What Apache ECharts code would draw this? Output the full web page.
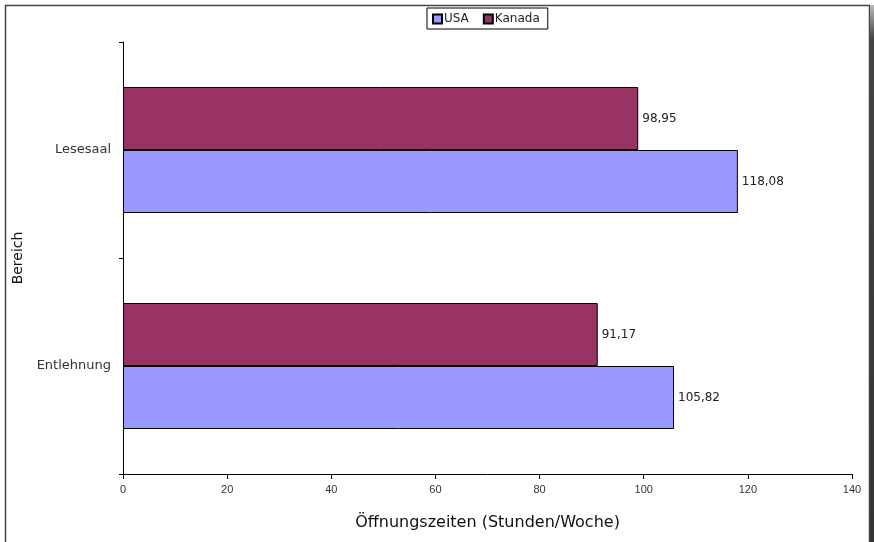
<!DOCTYPE html>
<html>
<head>
<meta charset="utf-8">
<script src="https://cdn.jsdelivr.net/npm/echarts@6/dist/echarts.min.js"></script>
<style>
  html, body { margin: 0; padding: 0; background: #fff; }
  #chart { width: 874px; height: 542px; }
</style>
</head>
<body>
<div id="chart"></div>
<script>
// Opening hours per week by library area (USA vs. Kanada)
const categories = ['Entlehnung', 'Lesesaal'];
const usaValues = [105.82, 118.08];
const kanadaValues = [91.17, 98.95];
const xTicks = [0, 20, 40, 60, 80, 100, 120, 140];

const fmt = v => v.toFixed(2).replace('.', ',');

const chart = echarts.init(document.getElementById('chart'), null, { renderer: 'canvas' });

const labelStyle = {
  show: true,
  position: 'right',
  distance: 4,
  fontFamily: 'DejaVu Sans',
  fontSize: 12,
  color: '#222',
  formatter: p => fmt(p.value)
};

chart.setOption({
  backgroundColor: '#fff',
  animation: false,
  graphic: [
    {
      type: 'rect',
      shape: { x: 5.5, y: 5.5, width: 864, height: 560 },
      style: { fill: 'none', stroke: '#444', lineWidth: 1.5 },
      silent: true
    },
    {
      type: 'rect',
      shape: { x: 870, y: 5, width: 4, height: 560 },
      style: {
        fill: new echarts.graphic.LinearGradient(0, 0, 0, 1, [
          { offset: 0, color: '#bbb' },
          { offset: 0.06, color: '#444' },
          { offset: 1, color: '#333' }
        ])
      },
      silent: true
    }
  ],
  legend: {
    top: 8,
    left: 427,
    data: ['USA', 'Kanada'],
    icon: 'rect',
    itemWidth: 9,
    itemHeight: 9,
    itemGap: 14,
    padding: [5, 8, 4, 5],
    borderColor: '#000',
    borderWidth: 1,
    backgroundColor: '#fff',
    textStyle: { fontFamily: 'DejaVu Sans', fontSize: 12, color: '#222', padding: [0, 0, 0, -3] }
  },
  grid: { left: 123, right: 22, top: 42, bottom: 68, containLabel: false },
  xAxis: {
    type: 'value',
    min: 0,
    max: 140,
    interval: 20,
    name: 'Öffnungszeiten (Stunden/Woche)',
    nameLocation: 'middle',
    nameGap: 41,
    nameTextStyle: { fontFamily: 'DejaVu Sans', fontSize: 16, color: '#111' },
    axisLine: { show: true, lineStyle: { color: '#000', width: 1 } },
    axisTick: { show: true, length: 5, lineStyle: { color: '#000' } },
    axisLabel: {
      margin: 10,
      fontFamily: 'Liberation Sans',
      fontSize: 11,
      color: '#333',
      formatter: v => (xTicks.includes(v) ? String(v) : '')
    },
    splitLine: { show: false }
  },
  yAxis: {
    type: 'category',
    data: categories,
    name: 'Bereich',
    nameLocation: 'middle',
    nameGap: 97,
    nameRotate: 90,
    nameTextStyle: { fontFamily: 'DejaVu Sans', fontSize: 14, color: '#111' },
    axisLine: { show: true, lineStyle: { color: '#000', width: 1 } },
    axisTick: { show: true, length: 4, lineStyle: { color: '#000' } },
    axisLabel: { margin: 12, fontFamily: 'DejaVu Sans', fontSize: 13, color: '#333' },
    splitLine: { show: false }
  },
  // Kanada listed first so its bar sits above USA within each category
  series: [
    {
      name: 'Kanada',
      type: 'bar',
      data: kanadaValues,
      barWidth: 63,
      barGap: '0%',
      itemStyle: { color: '#993366', borderColor: '#000', borderWidth: 1 },
      label: labelStyle
    },
    {
      name: 'USA',
      type: 'bar',
      data: usaValues,
      barWidth: 63,
      barGap: '0%',
      itemStyle: { color: '#9999FF', borderColor: '#000', borderWidth: 1 },
      label: labelStyle
    }
  ]
});
</script>
</body>
</html>
